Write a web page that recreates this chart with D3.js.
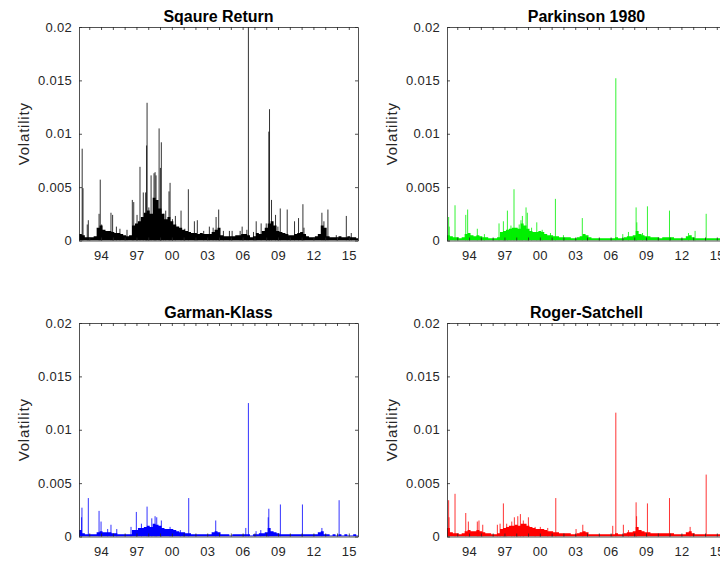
<!DOCTYPE html>
<html>
<head>
<meta charset="utf-8">
<script src="https://cdn.jsdelivr.net/npm/d3@7"></script>
<style>
  html, body { margin: 0; padding: 0; background: #fff; overflow: hidden; }
  svg { display: block; font-family: "Liberation Sans", Arial, sans-serif; }
</style>
</head>
<body>
<svg id="SVG_CONTAINER" width="720" height="562"></svg>
<script>
// ---- data ----
// x axis: decimal years, ticks every year, labels every 3 years
const tickYears  = [1994, 1997, 2000, 2003, 2006, 2009, 2012, 2015];
const tickLabels = ["94", "97", "00", "03", "06", "09", "12", "15"];
const yTicks     = [0, 0.005, 0.01, 0.015, 0.02];
const yTickLabels = ["0", "0.005", "0.01", "0.015", "0.02"];

// dense part of each series, one value per quarter starting 1992.125
const bodyStart = 1992.125;

const sqBody = [
  0.0006, 0.0005, 0.0003, 0.0003, 0.0003, 0.0004, 0.0012, 0.0014,
  0.0010, 0.0009, 0.0009, 0.0008, 0.0007, 0.0007, 0.0006, 0.0005,
  0.0004, 0.0005, 0.0014, 0.0016, 0.0018, 0.0022, 0.0026, 0.0028,
  0.0025, 0.0040, 0.0038, 0.0030, 0.0025, 0.0020, 0.0022, 0.0018,
  0.0015, 0.0013, 0.0012, 0.0010, 0.0009, 0.0008, 0.0007, 0.0007,
  0.0006, 0.0007, 0.0006, 0.0006, 0.0006, 0.0008, 0.0010, 0.0012,
  0.0005, 0.0004, 0.0004, 0.0004, 0.0004, 0.0005, 0.0005, 0.0006,
  0.0006, 0.0005, 0.0003, 0.0004, 0.0007, 0.0006, 0.0009, 0.0012,
  0.0016, 0.0018, 0.0014, 0.0009, 0.0008, 0.0007, 0.0006, 0.0005,
  0.0005, 0.0006, 0.0007, 0.0008, 0.0006, 0.0004, 0.0003, 0.0003,
  0.0004, 0.0006, 0.0014, 0.0012, 0.0004, 0.0003, 0.0003, 0.0003,
  0.0004, 0.0003, 0.0003, 0.0004, 0.0003, 0.0003, 0.0002
];
const pkBody = [
  0.0005, 0.0004, 0.0003, 0.0003, 0.0002, 0.0003, 0.0006, 0.0007,
  0.0005, 0.0004, 0.0005, 0.0004, 0.0003, 0.0003, 0.0002, 0.0002,
  0.0002, 0.0003, 0.0008, 0.0009, 0.0010, 0.0011, 0.0012, 0.0012,
  0.0011, 0.0016, 0.0014, 0.0011, 0.0009, 0.0008, 0.0008, 0.0009,
  0.0008, 0.0006, 0.0005, 0.0005, 0.0004, 0.0004, 0.0003, 0.0003,
  0.0003, 0.0003, 0.0002, 0.0002, 0.0003, 0.0004, 0.0006, 0.0005,
  0.0003, 0.0002, 0.0002, 0.0002, 0.0002, 0.0002, 0.0002, 0.0002,
  0.0002, 0.0003, 0.0002, 0.0002, 0.0003, 0.0004, 0.0004, 0.0005,
  0.0009, 0.0006, 0.0005, 0.0004, 0.0004, 0.0003, 0.0003, 0.0003,
  0.0002, 0.0003, 0.0003, 0.0003, 0.0003, 0.0002, 0.0002, 0.0002,
  0.0002, 0.0004, 0.0005, 0.0003, 0.0002, 0.0002, 0.0002, 0.0002,
  0.0002, 0.0002, 0.0002, 0.0002, 0.0002, 0.0002, 0.0002
];
const gkBody = [
  0.0006, 0.0003, 0.0002, 0.0002, 0.0002, 0.0002, 0.0004, 0.0005,
  0.0004, 0.0004, 0.0004, 0.0003, 0.0003, 0.0002, 0.0002, 0.0002,
  0.0002, 0.0002, 0.0006, 0.0006, 0.0008, 0.0008, 0.0009, 0.0010,
  0.0009, 0.0012, 0.0011, 0.0010, 0.0008, 0.0007, 0.0007, 0.0007,
  0.0006, 0.0005, 0.0004, 0.0004, 0.0003, 0.0003, 0.0002, 0.0002,
  0.0002, 0.0002, 0.0002, 0.0002, 0.0002, 0.0004, 0.0005, 0.0004,
  0.0002, 0.0002, 0.0002, 0.0001, 0.0002, 0.0002, 0.0002, 0.0002,
  0.0002, 0.0002, 0.0001, 0.0002, 0.0002, 0.0003, 0.0003, 0.0004,
  0.0008, 0.0005, 0.0004, 0.0003, 0.0002, 0.0002, 0.0002, 0.0002,
  0.0002, 0.0002, 0.0002, 0.0002, 0.0002, 0.0002, 0.0002, 0.0002,
  0.0002, 0.0004, 0.0005, 0.0002, 0.0002, 0.0001, 0.0002, 0.0001,
  0.0002, 0.0001, 0.0002, 0.0001, 0.0001, 0.0002, 0.0001
];
const rsBody = [
  0.0008, 0.0004, 0.0003, 0.0003, 0.0002, 0.0003, 0.0005, 0.0006,
  0.0005, 0.0005, 0.0006, 0.0005, 0.0004, 0.0003, 0.0003, 0.0002,
  0.0002, 0.0003, 0.0007, 0.0008, 0.0009, 0.0010, 0.0010, 0.0011,
  0.0010, 0.0012, 0.0012, 0.0010, 0.0009, 0.0008, 0.0007, 0.0007,
  0.0007, 0.0006, 0.0005, 0.0005, 0.0004, 0.0004, 0.0003, 0.0003,
  0.0003, 0.0003, 0.0002, 0.0002, 0.0003, 0.0004, 0.0005, 0.0004,
  0.0002, 0.0002, 0.0002, 0.0002, 0.0002, 0.0002, 0.0002, 0.0002,
  0.0002, 0.0003, 0.0002, 0.0002, 0.0003, 0.0004, 0.0004, 0.0005,
  0.0009, 0.0006, 0.0005, 0.0004, 0.0004, 0.0003, 0.0003, 0.0003,
  0.0003, 0.0003, 0.0003, 0.0003, 0.0003, 0.0002, 0.0002, 0.0002,
  0.0002, 0.0004, 0.0005, 0.0003, 0.0002, 0.0002, 0.0002, 0.0002,
  0.0002, 0.0002, 0.0002, 0.0002, 0.0002, 0.0002, 0.0002
];

// single tall days: [year, value]
const sqSpikes = [
  [1992.40, 0.0086], [1992.47, 0.0049], [1992.83, 0.0015], [1992.92, 0.0019],
  [1993.83, 0.0025], [1993.93, 0.0057], [1994.05, 0.0015], [1994.84, 0.0026],
  [1994.98, 0.0024], [1995.30, 0.0013], [1995.60, 0.0011], [1996.20, 0.0010],
  [1996.65, 0.0038], [1996.77, 0.0036], [1997.05, 0.0024], [1997.30, 0.0069],
  [1997.58, 0.0045], [1997.78, 0.0045], [1997.86, 0.0089], [1997.90, 0.0129],
  [1998.05, 0.0031], [1998.24, 0.0061], [1998.49, 0.0063], [1998.58, 0.0064],
  [1998.66, 0.0061], [1998.92, 0.0105], [1999.03, 0.0068], [1999.11, 0.0092],
  [1999.30, 0.0025], [1999.48, 0.0028], [1999.76, 0.0046], [1999.85, 0.0054],
  [2000.05, 0.0020], [2000.30, 0.0023], [2000.78, 0.0028], [2001.10, 0.0011],
  [2001.40, 0.0048], [2001.91, 0.0018], [2002.16, 0.0019], [2002.70, 0.0009],
  [2003.18, 0.0013], [2003.50, 0.0012], [2003.75, 0.0022], [2003.97, 0.0029],
  [2004.37, 0.0009], [2004.88, 0.0009], [2005.11, 0.0009], [2005.79, 0.0009],
  [2005.96, 0.0013], [2006.36, 0.0010], [2006.49, 0.0215], [2006.92, 0.0008],
  [2007.15, 0.0018], [2007.57, 0.0016], [2008.00, 0.0016], [2008.22, 0.0102],
  [2008.28, 0.0123], [2008.45, 0.0038], [2008.79, 0.0024], [2008.99, 0.0013],
  [2009.19, 0.0030], [2009.78, 0.0029], [2010.40, 0.0018], [2010.74, 0.0021],
  [2011.11, 0.0034], [2011.20, 0.0012], [2012.72, 0.0026], [2012.89, 0.0018],
  [2013.23, 0.0029], [2013.94, 0.0005], [2014.79, 0.0023], [2015.21, 0.0007]
];
const pkSpikes = [
  [1992.27, 0.0022], [1992.32, 0.0013], [1992.81, 0.0033], [1993.72, 0.0024],
  [1993.88, 0.0029], [1994.70, 0.0011], [1995.30, 0.0006], [1996.54, 0.0016],
  [1996.91, 0.0018], [1997.25, 0.0028], [1997.55, 0.0014], [1997.81, 0.0048],
  [1998.25, 0.0015], [1998.40, 0.0019], [1998.52, 0.0023], [1998.83, 0.0031],
  [1998.94, 0.0026], [1999.30, 0.0012], [1999.74, 0.0017], [2000.20, 0.0010],
  [2000.90, 0.0007], [2001.32, 0.0039], [2002.00, 0.0005], [2003.60, 0.0021],
  [2006.44, 0.0152], [2007.03, 0.0006], [2007.51, 0.0008], [2008.16, 0.0031],
  [2008.22, 0.0017], [2008.70, 0.0007], [2009.12, 0.0032], [2010.99, 0.0028],
  [2012.60, 0.0007], [2013.16, 0.0009], [2014.10, 0.0025]
];
const gkSpikes = [
  [1992.35, 0.0018], [1992.38, 0.0027], [1992.92, 0.0036], [1993.83, 0.0024],
  [1994.00, 0.0014], [1994.56, 0.0007], [1994.84, 0.0011], [1995.33, 0.0007],
  [1996.54, 0.0009], [1996.99, 0.0023], [1997.42, 0.0012], [1997.90, 0.0028],
  [1998.30, 0.0017], [1998.58, 0.0019], [1998.72, 0.0018], [1999.11, 0.0015],
  [1999.85, 0.0009], [2000.72, 0.0006], [2001.43, 0.0036], [2003.72, 0.0015],
  [2006.27, 0.0008], [2006.49, 0.0125], [2007.14, 0.0005], [2007.54, 0.0006],
  [2008.17, 0.0018], [2008.22, 0.0026], [2009.20, 0.0030], [2011.07, 0.0030],
  [2012.72, 0.0008], [2014.18, 0.0034]
];
const rsSpikes = [
  [1992.27, 0.0034], [1992.30, 0.0018], [1992.81, 0.0040], [1993.72, 0.0022],
  [1993.94, 0.0014], [1994.70, 0.0014], [1994.84, 0.0015], [1995.16, 0.0011],
  [1996.40, 0.0011], [1996.63, 0.0012], [1996.91, 0.0031], [1997.19, 0.0012],
  [1997.62, 0.0014], [1997.84, 0.0018], [1998.13, 0.0019], [1998.35, 0.0021],
  [1998.60, 0.0015], [1999.03, 0.0018], [1999.60, 0.0009], [2000.04, 0.0009],
  [2000.67, 0.0008], [2001.35, 0.0036], [2003.07, 0.0007], [2003.64, 0.0011],
  [2006.18, 0.0010], [2006.44, 0.0116], [2007.08, 0.0011], [2007.51, 0.0006],
  [2008.16, 0.0032], [2008.20, 0.0019], [2009.12, 0.0031], [2010.99, 0.0036],
  [2012.74, 0.0009], [2014.10, 0.0058]
];

const panels = [
  { title: "Sqaure Return",  body: sqBody, spikes: sqSpikes, color: "#000000", left: 79,  top: 27 },
  { title: "Parkinson 1980", body: pkBody, spikes: pkSpikes, color: "#00f000", left: 447, top: 27 },
  { title: "Garman-Klass",   body: gkBody, spikes: gkSpikes, color: "#0000ff", left: 79,  top: 323 },
  { title: "Roger-Satchell", body: rsBody, spikes: rsSpikes, color: "#ff0000", left: 447, top: 323 }
];

// ---- layout ----
const PW = 279, PH = 213.5;
const X_MIN = 1992.13, X_MAX = 2015.78;
const AXIS_COLOR = "#262626";

let svg = d3.select("#SVG_CONTAINER");

let drawPanel = function (p, idx) {
  let g = svg.append("g").attr("transform", "translate(" + p.left + "," + p.top + ")");

  let xScale = d3.scaleLinear().domain([X_MIN, X_MAX]).range([0, PW]);
  let yScale = d3.scaleLinear().domain([0, 0.02]).range([PH, 0]);

  g.append("clipPath").attr("id", "clip" + idx)
    .append("rect").attr("width", PW).attr("height", PH);

  let plot = g.append("g").attr("clip-path", "url(#clip" + idx + ")");

  // dense quarterly body as one stepped area (no seams between quarters)
  let pts = p.body.map((v, i) => [bodyStart + i * 0.25, v]);
  pts.push([bodyStart + p.body.length * 0.25, p.body[p.body.length - 1]]);

  let area = d3.area()
    .x(d => xScale(d[0]))
    .y0(yScale(0))
    .y1(d => yScale(d[1]))
    .curve(d3.curveStepAfter);

  plot.append("path")
    .datum(pts)
    .attr("d", area)
    .attr("fill", p.color);

  // single day spikes
  plot.selectAll("line.spike")
    .data(p.spikes)
    .join("line")
      .attr("class", "spike")
      .attr("x1", d => xScale(d[0]))
      .attr("x2", d => xScale(d[0]))
      .attr("y1", yScale(0))
      .attr("y2", d => yScale(d[1]))
      .attr("stroke", p.color)
      .attr("stroke-width", 1)
      .attr("stroke-opacity", 0.8);

  // axes, ticks pointing inward like matlab
  let yearTicks = d3.range(1993, 2016);
  let fmtX = function (v) {
    let k = tickYears.indexOf(v);
    return k >= 0 ? tickLabels[k] : "";
  };

  let xAxis = d3.axisBottom(xScale).tickValues(yearTicks).tickFormat(fmtX)
    .tickSize(-3).tickSizeOuter(0).tickPadding(10);
  let xAxisTop = d3.axisTop(xScale).tickValues(yearTicks).tickFormat("")
    .tickSize(-3).tickSizeOuter(0);
  let yAxis = d3.axisLeft(yScale).tickValues(yTicks)
    .tickFormat((d, i) => yTickLabels[i]).tickSize(-3).tickSizeOuter(0).tickPadding(7);
  let yAxisRight = d3.axisRight(yScale).tickValues(yTicks).tickFormat("")
    .tickSize(-3).tickSizeOuter(0);

  g.append("g").attr("transform", "translate(0," + PH + ")").call(xAxis);
  g.append("g").call(xAxisTop);
  g.append("g").call(yAxis);
  g.append("g").attr("transform", "translate(" + PW + ",0)").call(yAxisRight);

  g.selectAll(".domain, .tick line").attr("stroke", AXIS_COLOR).attr("stroke-width", 0.8);
  g.selectAll(".tick text")
    .attr("fill", AXIS_COLOR)
    .style("font-size", "13px")
    .style("letter-spacing", "0.3px")
    .style("font-family", "'Liberation Sans', Arial, sans-serif");

  // title
  g.append("text")
    .attr("x", PW / 2)
    .attr("y", -5.5)
    .attr("text-anchor", "middle")
    .style("font-size", "16px")
    .style("font-weight", "bold")
    .attr("fill", "#000")
    .text(p.title);

  // y label
  g.append("text")
    .attr("transform", "translate(-55," + (PH / 2) + ") rotate(-90)")
    .attr("text-anchor", "middle")
    .attr("dy", "0.35em")
    .style("font-size", "15px")
    .style("letter-spacing", "0.8px")
    .attr("fill", AXIS_COLOR)
    .text("Volatility");
};

panels.forEach(drawPanel);
</script>
</body>
</html>
